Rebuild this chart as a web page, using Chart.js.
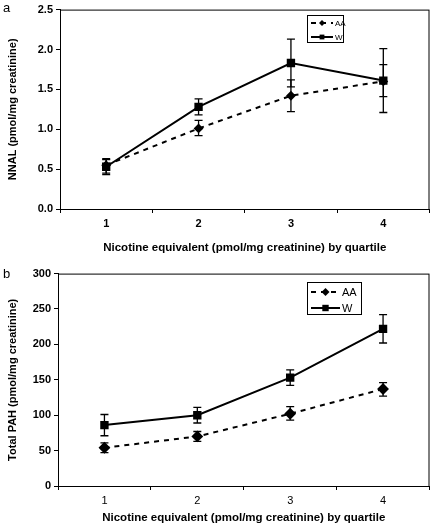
<!DOCTYPE html>
<html lang="en">
<head>
<meta charset="UTF-8">
<title>NNAL and PAH by nicotine quartile</title>
<script src="https://cdn.jsdelivr.net/npm/chart.js"></script>
<style>
  body { margin: 0; background: #fff; }
  .panel { position: absolute; left: 0; width: 436px; height: 264px; }
  .tag { position: absolute; left: 3px; font: 13px "Liberation Sans", Arial, sans-serif; color: #000; }
</style>
</head>
<body>
<div class="panel" style="top:0"><canvas id="chartA" width="436" height="264"></canvas></div>
<div class="panel" style="top:264px"><canvas id="chartB" width="436" height="264"></canvas></div>
<span class="tag" style="top:0px">a</span>
<span class="tag" style="top:266px">b</span>

<script>
// --- data ---
const quartiles = ['1', '2', '3', '4'];

// panel a: NNAL
const nnalAA   = [0.55, 1.01, 1.42, 1.60];
const nnalAALo = [0.45, 0.92, 1.22, 1.41];
const nnalAAHi = [0.62, 1.11, 1.62, 1.81];
const nnalW    = [0.53, 1.28, 1.83, 1.61];
const nnalWLo  = [0.43, 1.18, 1.53, 1.21];
const nnalWHi  = [0.63, 1.38, 2.13, 2.01];
const nnalTicks = [0, 0.5, 1.0, 1.5, 2.0, 2.5];

// panel b: total PAH
const pahAA   = [54, 70, 102, 137];
const pahAALo = [47, 63, 93, 127];
const pahAAHi = [61, 77, 112, 146];
const pahW    = [86, 100, 153, 222];
const pahWLo  = [71, 89, 142, 202];
const pahWHi  = [101, 111, 164, 242];
const pahTicks = [0, 50, 100, 150, 200, 250, 300];

const FONT = '"Liberation Sans", Arial, sans-serif';

// error bars, drawn through the chart's own scales
const errorBars = {
  id: 'errorBars',
  afterDatasetsDraw(chart) {
    const ctx = chart.ctx;
    const x = chart.scales.x, y = chart.scales.y;
    ctx.save();
    ctx.strokeStyle = '#000';
    ctx.lineWidth = 1.3;
    chart.data.datasets.forEach(ds => {
      ds.data.forEach((v, i) => {
        const px = x.getPixelForValue(i);
        const lo = y.getPixelForValue(ds.lo[i]);
        const hi = y.getPixelForValue(ds.hi[i]);
        ctx.beginPath();
        ctx.moveTo(px, lo); ctx.lineTo(px, hi);
        ctx.moveTo(px - 4, lo); ctx.lineTo(px + 4, lo);
        ctx.moveTo(px - 4, hi); ctx.lineTo(px + 4, hi);
        ctx.stroke();
      });
    });
    ctx.restore();
  }
};

// box round the plot area
const frame = {
  id: 'frame',
  beforeDatasetsDraw(chart) {
    const a = chart.chartArea, ctx = chart.ctx;
    ctx.save();
    ctx.strokeStyle = '#000';
    ctx.lineWidth = 1;
    ctx.strokeRect(a.left + 0.5, a.top + 0.5, a.right - a.left - 1, a.bottom - a.top);
    ctx.restore();
  }
};

// small boxed legend with line samples
const boxLegend = {
  id: 'boxLegend',
  afterDraw(chart, args, o) {
    const ctx = chart.ctx;
    ctx.save();
    ctx.strokeStyle = '#000';
    ctx.lineWidth = 1;
    ctx.strokeRect(o.x + 0.5, o.y + 0.5, o.w, o.h);
    chart.data.datasets.forEach((ds, k) => {
      const cy = o.y + o.rows[k];
      const x0 = o.x + 4, x1 = o.x + 4 + o.sample;
      ctx.beginPath();
      ctx.setLineDash(ds.borderDash || []);
      ctx.lineWidth = 2;
      ctx.moveTo(x0, cy); ctx.lineTo(x1, cy);
      ctx.stroke();
      ctx.setLineDash([]);
      const mx = (x0 + x1) / 2, r = o.marker;
      ctx.fillStyle = '#000';
      ctx.beginPath();
      if (ds.pointStyle === 'rectRot') {
        ctx.moveTo(mx, cy - r); ctx.lineTo(mx + r, cy); ctx.lineTo(mx, cy + r); ctx.lineTo(mx - r, cy);
      } else {
        ctx.rect(mx - r * 0.8, cy - r * 0.8, r * 1.6, r * 1.6);
      }
      ctx.fill();
      ctx.font = o.fontSize + 'px ' + FONT;
      ctx.textBaseline = 'middle';
      ctx.fillText(ds.label, x1 + 2, cy + 1);
    });
    ctx.restore();
  }
};

function makeChart(id, aa, aaLo, aaHi, w, wLo, wHi, ticks, opt) {
  return new Chart(document.getElementById(id), {
    type: 'line',
    data: {
      labels: quartiles,
      datasets: [
        { label: 'AA', data: aa, lo: aaLo, hi: aaHi, borderColor: '#000', backgroundColor: '#000',
          borderWidth: 2, borderDash: [5, 5], pointStyle: 'rectRot', pointRadius: opt.aaRadius },
        { label: 'W', data: w, lo: wLo, hi: wHi, borderColor: '#000', backgroundColor: '#000',
          borderWidth: 2, pointStyle: 'rect', pointRadius: opt.wRadius }
      ]
    },
    options: {
      responsive: false,
      animation: false,
      devicePixelRatio: 1,
      layout: { padding: opt.padding },
      plugins: { legend: { display: false }, tooltip: { enabled: false }, boxLegend: opt.legend },
      scales: {
        x: {
          offset: true,
          grid: { offset: true, drawOnChartArea: false, color: '#000', tickLength: 4 },
          border: { color: '#000' },
          ticks: { color: '#000', padding: 4, font: { family: FONT, size: 11, weight: opt.xBold ? 'bold' : 'normal' } },
          title: { display: true, text: 'Nicotine equivalent (pmol/mg creatinine) by quartile', color: '#000',
                   font: { family: FONT, size: 11.5, weight: 'bold' }, padding: opt.xTitlePad },
          afterFit: s => { s.height = opt.xHeight; }
        },
        y: {
          min: ticks[0], max: ticks[ticks.length - 1],
          afterBuildTicks: s => { s.ticks = ticks.map(v => ({ value: v })); },
          grid: { drawOnChartArea: false, color: '#000', tickLength: 4 },
          border: { color: '#000' },
          ticks: { color: '#000', padding: 3, font: { family: FONT, size: 11, weight: 'bold' },
                   callback: v => opt.decimals ? v.toFixed(1) : String(v) },
          title: { display: true, text: opt.yTitle, color: '#000',
                   font: { family: FONT, size: 11, weight: 'bold' }, padding: { top: 6 } },
          afterFit: s => { s.width = opt.yWidth; }
        }
      }
    },
    plugins: [frame, errorBars, boxLegend]
  });
}

makeChart('chartA', nnalAA, nnalAALo, nnalAAHi, nnalW, nnalWLo, nnalWHi, nnalTicks, {
  yTitle: 'NNAL (pmol/mg creatinine)', decimals: true, xBold: true,
  padding: { top: 7, right: 5, left: 0, bottom: 0 },
  yWidth: 60, xHeight: 55, xTitlePad: { top: 4, bottom: 9 },
  aaRadius: 3.5, wRadius: 4.5,
  legend: { x: 307, y: 15, w: 36, h: 27, rows: [8, 22], sample: 22, marker: 3, fontSize: 8 }
});

makeChart('chartB', pahAA, pahAALo, pahAAHi, pahW, pahWLo, pahWHi, pahTicks, {
  yTitle: 'Total PAH (pmol/mg creatinine)', decimals: false, xBold: false,
  padding: { top: 9, right: 1, left: 0, bottom: 0 },
  yWidth: 58, xHeight: 42, xTitlePad: { top: 4, bottom: 3 },
  aaRadius: 4.5, wRadius: 4.5,
  legend: { x: 307, y: 18, w: 54, h: 32, rows: [10, 26], sample: 29, marker: 4, fontSize: 11 }
});
</script>
</body>
</html>
